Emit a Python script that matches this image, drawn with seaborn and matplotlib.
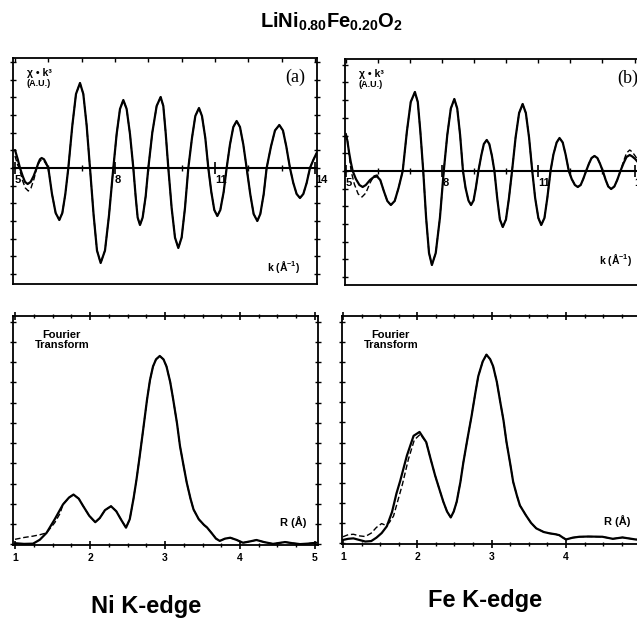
import matplotlib
matplotlib.use("Agg")
import matplotlib.pyplot as plt
from matplotlib.ticker import MultipleLocator
import pandas as pd
import seaborn as sns

sns.set_theme(style="white")
plt.rcParams["font.family"] = ["Liberation Sans", "DejaVu Sans"]
plt.rcParams["mathtext.fontset"] = "custom"
plt.rcParams["mathtext.rm"] = "Liberation Sans"
plt.rcParams["mathtext.bf"] = "Liberation Sans:bold"
plt.rcParams["mathtext.it"] = "Liberation Sans:italic"
for key in ("text.color", "axes.labelcolor", "xtick.color", "ytick.color", "axes.edgecolor"):
    plt.rcParams[key] = "black"

# ──────────────────────────────────────────────────────────────────
# Data (arbitrary units)
# ──────────────────────────────────────────────────────────────────

# (a) Ni K-edge, k^3-weighted EXAFS, experiment (solid)
ni_k = [5.00, 5.08, 5.15, 5.23, 5.30, 5.38, 5.47, 5.56, 5.65, 5.70, 5.75, 5.80, 5.87, 5.93,
        6.00, 6.11, 6.22, 6.33, 6.42, 6.51, 6.60, 6.72, 6.83, 6.95, 7.05, 7.15, 7.25, 7.36,
        7.46, 7.57, 7.70, 7.82, 7.95, 8.05, 8.15, 8.25, 8.35, 8.45, 8.55, 8.62, 8.68, 8.75,
        8.83, 8.92, 9.00, 9.12, 9.25, 9.37, 9.45, 9.52, 9.60, 9.70, 9.80, 9.90, 10.00, 10.10,
        10.20, 10.31, 10.41, 10.52, 10.61, 10.71, 10.80, 10.89, 10.98, 11.07, 11.16, 11.26,
        11.35, 11.45, 11.55, 11.65, 11.75, 11.85, 11.95, 12.06, 12.16, 12.27, 12.36, 12.46,
        12.55, 12.68, 12.80, 12.93, 13.04, 13.14, 13.25, 13.35, 13.45, 13.55, 13.65, 13.75,
        13.85, 13.95, 14.05]
ni_chi = [1.8, 0.9, 0.0, -0.8, -1.39, -1.6, -1.39, -0.8, 0.0, 0.5, 0.87, 1.0, 0.87, 0.5,
          0.0, -2.6, -4.5, -5.2, -4.5, -2.6, 0.0, 4.25, 7.4, 8.5, 7.4, 4.25, 0.0, -4.75,
          -8.25, -9.5, -8.25, -4.75, 0.0, 3.4, 5.9, 6.8, 5.9, 3.4, 0.0, -2.85, -4.95, -5.7,
          -4.95, -2.85, 0.0, 3.55, 6.2, 7.1, 6.2, 3.55, 0.0, -4.0, -6.95, -8.0, -6.95, -4.0,
          0.0, 3.0, 5.2, 6.0, 5.2, 3.0, 0.0, -2.4, -4.2, -4.8, -4.2, -2.4,
          0.0, 2.35, 4.1, 4.7, 4.1, 2.35, 0.0, -2.65, -4.6, -5.3, -4.6, -2.65,
          0.0, 2.15, 3.75, 4.3, 3.75, 2.15, 0.0, -1.5, -2.6, -3.0, -2.6, -1.5,
          0.0, 0.8, 1.5]
# fit (dashed) where it departs from the experiment
ni_fit_head_k = [5.00, 5.08, 5.13, 5.22, 5.31, 5.40, 5.48, 5.57, 5.65, 5.70, 5.75, 5.80, 5.87, 5.93]
ni_fit_head_chi = [1.2, 0.3, 0.0, -1.2, -2.0, -2.3, -2.0, -1.1, 0.0, 0.4, 0.7, 0.8, 0.7, 0.4]

# (b) Fe K-edge, k^3-weighted EXAFS, experiment (solid)
fe_k = [5.00, 5.04, 5.10, 5.15, 5.21, 5.31, 5.42, 5.52, 5.62, 5.75, 5.87, 5.97, 6.07, 6.18,
        6.29, 6.40, 6.52, 6.64, 6.77, 6.90, 7.02, 7.15, 7.24, 7.32, 7.41, 7.50, 7.59, 7.68,
        7.80, 7.93, 8.05, 8.16, 8.27, 8.38, 8.47, 8.56, 8.65, 8.73, 8.82, 8.90, 8.98, 9.05,
        9.13, 9.22, 9.30, 9.39, 9.47, 9.55, 9.63, 9.72, 9.80, 9.89, 9.99, 10.08, 10.18,
        10.29, 10.40, 10.51, 10.61, 10.71, 10.81, 10.90, 11.00, 11.09, 11.19, 11.28, 11.38,
        11.47, 11.57, 11.66, 11.76, 11.85, 11.95, 12.04, 12.14, 12.23, 12.32, 12.40, 12.49,
        12.58, 12.66, 12.75, 12.84, 12.92, 13.01, 13.10, 13.18, 13.27, 13.37, 13.46, 13.56,
        13.66, 13.75, 13.85, 13.93, 14.02, 14.10]
fe_chi = [3.5, 3.1, 1.8, 0.9, 0.0, -0.8, -1.4, -1.6, -1.4, -0.9, -0.6, -0.55, -0.9, -2.0,
          -3.0, -3.4, -3.0, -1.7, 0.0, 3.95, 6.9, 7.9, 6.9, 3.95, 0.0, -4.7, -8.2, -9.4,
          -8.2, -4.7, 0.0, 3.6, 6.25, 7.2, 6.25, 3.6, 0.0, -1.7, -2.95, -3.4, -2.95, -1.7,
          0.0, 1.55, 2.7, 3.1, 2.7, 1.55, 0.0, -2.8, -4.85, -5.6, -4.85, -2.8, 0.0,
          3.35, 5.8, 6.7, 5.8, 3.35, 0.0, -2.7, -4.7, -5.4, -4.7, -2.7, 0.0,
          1.65, 2.85, 3.3, 2.85, 1.65, 0.0, -0.8, -1.4, -1.6, -1.4, -0.8, 0.0,
          0.75, 1.3, 1.5, 1.3, 0.75, 0.0, -0.9, -1.55, -1.8, -1.55, -0.9, 0.0,
          0.8, 1.4, 1.6, 1.45, 1.2, 0.9]
fe_fit_head_k = [5.00, 5.04, 5.10, 5.16, 5.26, 5.38, 5.50, 5.62, 5.75, 5.87, 5.97, 6.07, 6.18, 6.29]
fe_fit_head_chi = [3.8, 3.3, 1.6, 0.0, -1.3, -2.3, -2.6, -2.2, -1.2, -0.5, -0.4, -0.9, -2.0, -3.0]
fe_fit_tail_k = [13.66, 13.75, 13.85, 13.93, 14.02, 14.10]
fe_fit_tail_chi = [1.0, 1.8, 2.1, 1.9, 1.5, 1.1]

# (a) Ni K-edge, Fourier transform magnitude
ni_r = [1.00, 1.12, 1.24, 1.33, 1.42, 1.53, 1.64, 1.72, 1.78, 1.85, 1.91, 1.99, 2.07, 2.13,
        2.20, 2.28, 2.35, 2.42, 2.48, 2.53, 2.58, 2.62, 2.66, 2.70, 2.76, 2.80, 2.84, 2.88,
        2.93, 2.98, 3.02, 3.07, 3.11, 3.16, 3.20, 3.25, 3.29, 3.34, 3.38, 3.45, 3.52, 3.56,
        3.62, 3.68, 3.73, 3.80, 3.87, 3.95, 4.04, 4.12, 4.22, 4.32, 4.44, 4.52, 4.60, 4.70,
        4.80, 4.90, 5.02]
ni_ft = [0.05, 0.02, 0.03, 0.2, 0.5, 1.1, 1.75, 2.05, 2.18, 2.0, 1.67, 1.25, 0.97, 1.15,
         1.5, 1.67, 1.45, 1.05, 0.73, 1.1, 2.0, 2.84, 3.8, 4.8, 6.33, 7.2, 7.79, 8.1,
         8.25, 8.1, 7.79, 7.1, 6.33, 5.3, 4.3, 3.4, 2.7, 2.0, 1.53, 1.1, 0.85, 0.74,
         0.5, 0.25, 0.15, 0.25, 0.29, 0.2, 0.07, 0.12, 0.19, 0.1, 0.02, 0.06, 0.1, 0.05,
         0.01, 0.03, 0.07]
ni_ft_fit_head_r = [1.00, 1.12, 1.24, 1.33, 1.42, 1.53, 1.60]
ni_ft_fit_head = [0.22, 0.3, 0.36, 0.42, 0.5, 0.95, 1.35]

# (b) Fe K-edge, Fourier transform magnitude
fe_r = [1.00, 1.07, 1.14, 1.22, 1.30, 1.38, 1.45, 1.52, 1.59, 1.66, 1.72, 1.77, 1.86, 1.95,
        2.03, 2.12, 2.18, 2.24, 2.30, 2.35, 2.40, 2.45, 2.49, 2.53, 2.58, 2.62, 2.68, 2.73,
        2.78, 2.82, 2.88, 2.93, 2.98, 3.02, 3.07, 3.11, 3.16, 3.20, 3.25, 3.29, 3.34, 3.38,
        3.46, 3.53, 3.60, 3.70, 3.78, 3.86, 3.91, 3.96, 4.00, 4.09, 4.18, 4.30, 4.49, 4.63,
        4.76, 4.94, 5.05]
fe_ft = [0.15, 0.2, 0.22, 0.15, 0.08, 0.1, 0.25, 0.45, 0.75, 1.38, 2.2, 2.75, 3.86, 4.73,
         4.9, 4.45, 3.7, 2.98, 2.35, 1.83, 1.4, 1.14, 1.4, 1.83, 2.7, 3.57, 4.7, 5.6,
         6.6, 7.35, 8.0, 8.3, 8.1, 7.79, 7.1, 6.33, 5.4, 4.45, 3.5, 2.7, 2.1, 1.67,
         1.24, 0.9, 0.66, 0.5, 0.44, 0.4, 0.36, 0.25, 0.17, 0.25, 0.29, 0.3, 0.29, 0.2,
         0.26, 0.17, 0.15]
fe_ft_fit_head_r = [1.00, 1.07, 1.14, 1.22, 1.30, 1.38, 1.45, 1.52, 1.57, 1.62, 1.68, 1.74,
                    1.80, 1.88, 1.96, 2.04]
fe_ft_fit_head = [0.29, 0.38, 0.4, 0.33, 0.3, 0.45, 0.7, 0.87, 0.8, 0.9, 1.2, 1.9,
                  2.6, 3.7, 4.55, 4.8]


def build(k, y, head_k=(), head_y=(), tail_k=(), tail_y=()):
    """Experiment + fit table; the fit follows the experiment except in head/tail."""
    lo = max(head_k) if head_k else -1e9
    hi = min(tail_k) if tail_k else 1e9
    fit_k = list(head_k) + [a for a in k if lo < a < hi] + list(tail_k)
    fit_y = list(head_y) + [b for a, b in zip(k, y) if lo < a < hi] + list(tail_y)
    exp = pd.DataFrame({"x": k, "y": y, "kind": "exp"})
    fit = pd.DataFrame({"x": fit_k, "y": fit_y, "kind": "fit"})
    return exp, fit


def draw_curves(ax, exp, fit):
    sns.lineplot(data=fit, x="x", y="y", ax=ax, sort=False, estimator=None,
                 color="black", linewidth=1.0, linestyle=(0, (4, 2)))
    sns.lineplot(data=exp, x="x", y="y", ax=ax, sort=False, estimator=None,
                 color="black", linewidth=1.6)
    ax.set(xlabel="", ylabel="")


def frame(ax):
    for s in ax.spines.values():
        s.set_color("black")
        s.set_linewidth(1.3)
        s.set_visible(True)


def style_exafs(ax, xlim, ylim, tag, klab_y):
    ax.set_xlim(*xlim)
    ax.set_ylim(*ylim)
    frame(ax)
    ax.xaxis.set_major_locator(MultipleLocator(1))
    ax.tick_params(axis="x", which="both", bottom=False, top=True, labelbottom=False,
                   direction="in", length=3, width=1, color="black")
    ax.yaxis.set_major_locator(MultipleLocator(1.77))
    ax.tick_params(axis="y", left=True, right=True, labelleft=False, direction="inout",
                   length=5, width=1, color="black")
    # k axis drawn along chi = 0
    zero = (0 - ylim[0]) / (ylim[1] - ylim[0])
    sec = ax.secondary_xaxis(zero)
    sec.set_alignment("bottom")
    sec.set_xticks([5, 8, 11, 14], ["5", "8", "11", "14"], ha="left",
                   fontweight="bold", fontsize=8)
    sec.xaxis.set_minor_locator(MultipleLocator(1))
    sec.tick_params(which="major", direction="inout", length=8, width=1.2,
                    color="black", pad=1)
    sec.tick_params(which="minor", direction="inout", length=4, width=1, color="black")
    sec.spines["bottom"].set_linewidth(1.5)
    sec.spines["bottom"].set_color("black")
    ax.text(0.045, 0.935, "χ • k³", transform=ax.transAxes,
            fontsize=7.5, fontweight="bold", va="center", ha="left")
    ax.text(0.045, 0.885, "(A.U.)", transform=ax.transAxes, fontsize=6.5,
            fontweight="bold", va="center", ha="left")
    ax.text(0.93, 0.915, tag, transform=ax.transAxes, fontsize=13,
            family="Liberation Serif", va="center", ha="center")
    ax.text(0.89, klab_y, r"$\mathbf{k\ (\AA^{-1})}$", transform=ax.transAxes,
            fontsize=7.5, va="center", ha="center")


def style_ft(ax, xlim, rlab_x):
    ax.set_xlim(*xlim)
    ax.set_ylim(-0.03, 10)
    frame(ax)
    ax.xaxis.set_major_locator(MultipleLocator(1))
    ax.xaxis.set_minor_locator(MultipleLocator(0.25))
    ax.tick_params(axis="x", which="major", bottom=True, top=True, direction="inout",
                   length=6, width=1.2, color="black", pad=3, labelsize=7.5)
    ax.tick_params(axis="x", which="minor", bottom=True, top=True, direction="inout",
                   length=3, width=1, color="black")
    for lab in ax.get_xticklabels():
        lab.set_fontweight("bold")
    ax.yaxis.set_major_locator(MultipleLocator(0.886))
    ax.tick_params(axis="y", left=True, right=True, labelleft=False, direction="inout",
                   length=5, width=1, color="black")
    ax.text(0.16, 0.895, "Fourier\nTransform", transform=ax.transAxes, fontsize=8,
            fontweight="bold", ha="center", va="center", linespacing=1.1)
    ax.text(rlab_x, 0.10, "R (Å)", transform=ax.transAxes, fontsize=8,
            fontweight="bold", ha="center", va="center")


fig = plt.figure(figsize=(6.37, 6.19), dpi=100)

ax_a = fig.add_axes([0.0204, 0.5412, 0.4772, 0.3651])
ax_b = fig.add_axes([0.5416, 0.5396, 0.4772, 0.3651])
ax_c = fig.add_axes([0.0204, 0.1195, 0.4788, 0.3700])
ax_d = fig.add_axes([0.5369, 0.1211, 0.4788, 0.3684])

draw_curves(ax_a, *build(ni_k, ni_chi, ni_fit_head_k, ni_fit_head_chi))
draw_curves(ax_b, *build(fe_k, fe_chi, fe_fit_head_k, fe_fit_head_chi,
                         fe_fit_tail_k, fe_fit_tail_chi))
draw_curves(ax_c, *build(ni_r, ni_ft, ni_ft_fit_head_r, ni_ft_fit_head))
draw_curves(ax_d, *build(fe_r, fe_ft, fe_ft_fit_head_r, fe_ft_fit_head))

style_exafs(ax_a, (4.94, 14.06), (-11.6, 11.0), "(a)", 0.075)
style_exafs(ax_b, (4.97, 14.45), (-11.4, 11.2), "(b)", 0.11)
style_ft(ax_c, (0.973, 5.04), 0.918)
style_ft(ax_d, (0.987, 5.09), 0.902)

fig.text(331 / 637, 1 - 22 / 619, r"$\mathbf{LiNi_{0.80}Fe_{0.20}O_{2}}$",
         fontsize=14.5, ha="center", va="center")
fig.text(146 / 637, 1 - 606 / 619, "Ni K-edge", fontsize=17, fontweight="bold",
         ha="center", va="center")
fig.text(485 / 637, 1 - 600 / 619, "Fe K-edge", fontsize=17, fontweight="bold",
         ha="center", va="center")

fig.savefig("out.png", dpi=100)
plt.close(fig)
